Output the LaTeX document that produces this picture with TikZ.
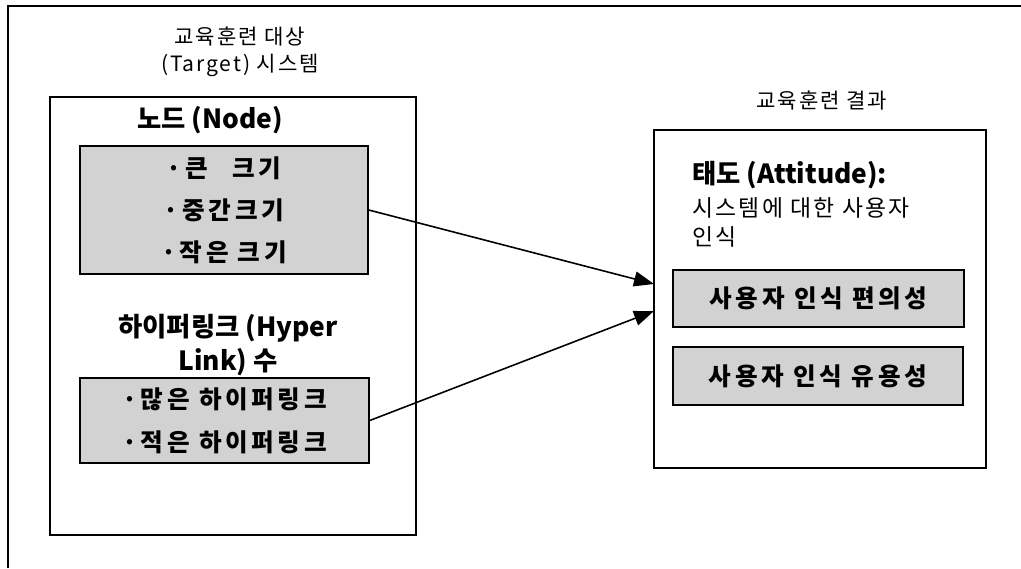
\documentclass[tikz,border=0pt]{standalone}
\usepackage{fontspec}
\setmainfont{Noto Sans CJK KR}
\usetikzlibrary{arrows.meta}

\tikzset{
    frame/.style={draw, line width=0.9pt},
    shadebox/.style={draw, line width=0.9pt, fill=gray!35, inner sep=0pt, align=center,
        font=\fontsize{14}{24}\selectfont\bfseries\addfontfeature{LetterSpace=15}},
    heading/.style={font=\fontsize{15}{20}\selectfont\bfseries},
    caption/.style={align=center, font=\fontsize{12}{15.3}\selectfont\addfontfeature{LetterSpace=9}},
    link/.style={line width=0.9pt, -{Triangle[length=0.4cm, width=0.3cm]}}
}

\begin{document}
\begin{tikzpicture}[x=0.02cm, y=-0.02cm]
    \useasboundingbox (0,0) rectangle (1021,568);
    % Outer frame (cut off at right and bottom)
    \draw[line width=0.6pt] (8,568) -- (8,6) -- (1021,6);

    % Target system
    \node[caption] (targettitle) at (240,52) {교육훈련 대상\\(Target) 시스템};
    \draw[frame] (50,97) rectangle (416,535);
    \node[heading, anchor=west] (nodehead) at (131,120) {노드 (Node)};
    \node[shadebox, minimum width=5.76cm, minimum height=2.56cm] (nodebox) at (224,210)
        {·큰\hspace{1em}크기\\·중간크기\\·작은 크기};
    \node[heading, align=center, font=\fontsize{15}{19.8}\selectfont\bfseries] (linkhead) at (228,345)
        {하이퍼링크 (Hyper\\Link) 수};
    \node[shadebox, minimum width=5.78cm, minimum height=1.7cm,
        font=\fontsize{14}{24.4}\selectfont\bfseries\addfontfeature{LetterSpace=15}] (linkbox) at (224.5,420.5)
        {·많은 하이퍼링크\\·적은 하이퍼링크};

    % Training result
    \node[caption] (resulttitle) at (822,100) {교육훈련 결과};
    \draw[frame] (654,130) rectangle (986,468);
    \node[heading, anchor=west] (attitude) at (686,175) {태도 (Attitude):};
    \node[anchor=west, align=left, font=\fontsize{13}{16.4}\selectfont\addfontfeature{LetterSpace=10}] (attdesc) at (686,222.5)
        {시스템에 대한 사용자\\인식};
    \node[shadebox, minimum width=5.82cm, minimum height=1.14cm] (easebox) at (818.5,298.5)
        {사용자 인식 편의성};
    \node[shadebox, minimum width=5.8cm, minimum height=1.16cm] (usebox) at (818,376)
        {사용자 인식 유용성};

    % Connectors
    \coordinate (in1) at (654,284);
    \coordinate (in2) at (654,311);
    \draw[link] (nodebox.east) -- (in1);
    \draw[link] (linkbox.east) -- (in2);
\end{tikzpicture}
\end{document}
